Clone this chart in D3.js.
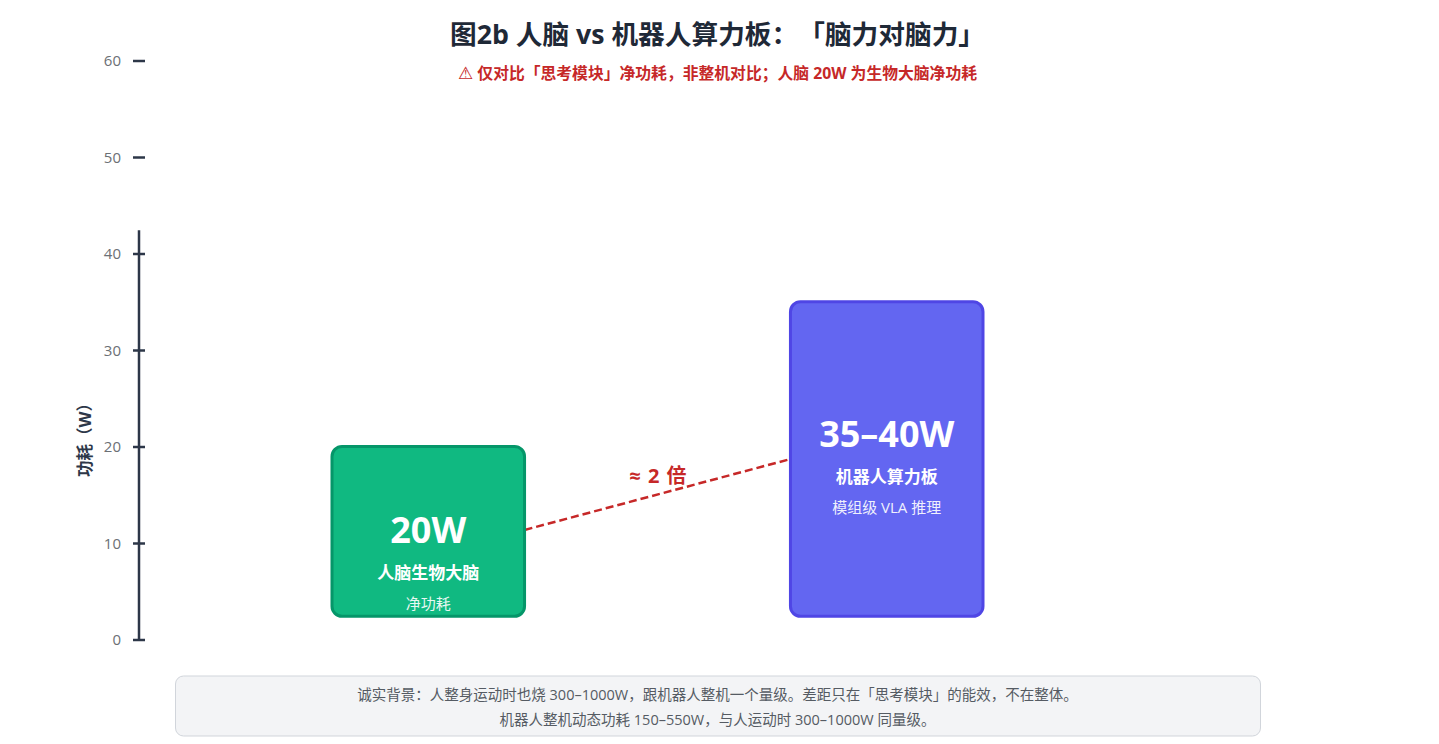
<!DOCTYPE html>
<html>
<head>
<meta charset="utf-8">
<title>图2b 人脑 vs 机器人算力板</title>
<style>
  html, body { margin: 0; padding: 0; background: #fff; }
  svg { display: block; }
  text { font-family: "Open Sans", "Noto Sans CJK SC", sans-serif; text-spacing-trim: space-all; }
</style>
</head>
<body>
<div id="chart"></div>
<script src="https://d3js.org/d3.v7.min.js"></script>
<script>
// data
const categories = ["人脑生物大脑", "机器人算力板"];
const barValues = [20, 35];
const barBase = 2.4;
const valueLabels = ["20W", "35–40W"];
const subLabels = ["净功耗", "模组级 VLA 推理"];
const yTicks = [0, 10, 20, 30, 40, 50, 60];
const axisTop = 42.4;
const linkValues = [11.35, 18.7];
const noteLines = [
  "诚实背景：人整身运动时也烧 300–1000W，跟机器人整机一个量级。差距只在「思考模块」的能效，不在整体。",
  "机器人整机动态功耗 150–550W，与人运动时 300–1000W 同量级。"
];
const barFill = ["#10b981", "#6366f1"];
const barStroke = ["#059669", "#4f46e5"];

const width = 1439, height = 744;
const svg = d3.select("#chart").append("svg")
  .attr("width", width)
  .attr("height", height);

// scales
const y = d3.scaleLinear().domain([0, 60]).range([639.5, 60.5]);
const x = d3.scaleBand().domain(categories).range([332, 983]).paddingInner(0.58).paddingOuter(0);

// y axis
const axis = svg.append("g")
  .attr("transform", "translate(139,0)")
  .call(d3.axisLeft(y).tickValues(yTicks).tickSizeOuter(0).tickPadding(12));
axis.select(".domain").remove();
axis.selectAll(".tick line")
  .attr("x1", -6).attr("x2", 6)
  .attr("stroke", "#2d3748").attr("stroke-width", 2.5);
axis.selectAll(".tick text")
  .attr("dy", "0.34em")
  .attr("fill", "#6b7075")
  .style("font-size", "15px");
axis.append("line")
  .attr("y1", y(0)).attr("y2", y(axisTop))
  .attr("stroke", "#2d3748").attr("stroke-width", 2.5);

svg.append("text")
  .attr("transform", "translate(91,436) rotate(-90)")
  .attr("text-anchor", "middle")
  .attr("fill", "#2d3748")
  .style("font-size", "16.5px").style("font-weight", 700)
  .text("功耗（W）");

// connector behind the bars
svg.append("line")
  .attr("x1", x(categories[0]) + x.bandwidth())
  .attr("x2", x(categories[1]))
  .attr("y1", y(linkValues[0]))
  .attr("y2", y(linkValues[1]))
  .attr("stroke", "#c62828").attr("stroke-width", 2.5)
  .attr("stroke-dasharray", "8,4");

svg.append("text")
  .attr("x", 658).attr("y", 483)
  .attr("text-anchor", "middle")
  .attr("fill", "#c62828")
  .style("font-size", "20px").style("font-weight", 700)
  .style("word-spacing", "2px")
  .text("≈ 2 倍");

// bars
svg.selectAll("rect.bar")
  .data(categories)
  .join("rect")
    .attr("class", "bar")
    .attr("x", d => x(d))
    .attr("y", (d, i) => y(barValues[i]))
    .attr("width", x.bandwidth())
    .attr("height", (d, i) => y(barBase) - y(barValues[i]))
    .attr("rx", 10)
    .attr("fill", (d, i) => barFill[i])
    .attr("stroke", (d, i) => barStroke[i])
    .attr("stroke-width", 3);

// bar labels: the tall bar carries them above its middle, the short one below
const labelShift = [-1, -25];
const labels = svg.selectAll("g.label")
  .data(categories)
  .join("g")
    .attr("class", "label")
    .attr("text-anchor", "middle")
    .attr("fill", "#fff")
    .attr("transform", (d, i) => `translate(${x(d) + x.bandwidth() / 2},${(y(barValues[i]) + y(barBase)) / 2 + labelShift[i]})`);

labels.append("text")
  .attr("y", 13)
  .style("font-size", "36px").style("font-weight", 700)
  .text((d, i) => valueLabels[i]);
labels.append("text")
  .attr("y", 49)
  .style("font-size", "17px").style("font-weight", 700)
  .text(d => d);
labels.append("text")
  .attr("y", 79)
  .attr("opacity", 0.9)
  .style("font-size", "15px")
  .text((d, i) => subLabels[i]);

// title
svg.append("text")
  .attr("x", 717.5).attr("y", 44)
  .attr("text-anchor", "middle")
  .attr("fill", "#1f2937")
  .style("font-size", "26.7px").style("font-weight", 700)
  .text("图2b 人脑 vs 机器人算力板：「脑力对脑力」");

const warn = svg.append("text")
  .attr("x", 717.5).attr("y", 79)
  .attr("text-anchor", "middle")
  .attr("fill", "#c62828")
  .style("font-size", "15.8px").style("font-weight", 700);
warn.append("tspan").style("font-family", "DejaVu Sans").style("font-weight", 400).style("font-size", "17px").text("⚠");
warn.append("tspan").text(" 仅对比「思考模块」净功耗，非整机对比；人脑 20W 为生物大脑净功耗");

// footnote box
svg.append("rect")
  .attr("x", 175.5).attr("y", 676)
  .attr("width", 1085).attr("height", 60)
  .attr("rx", 8)
  .attr("fill", "#f3f4f6")
  .attr("stroke", "#d1d5db").attr("stroke-width", 1);

svg.selectAll("text.note")
  .data(noteLines)
  .join("text")
    .attr("class", "note")
    .attr("x", 717.5)
    .attr("y", (d, i) => 700 + i * 25)
    .attr("text-anchor", "middle")
    .attr("fill", "#555b63")
    .style("font-size", "14.5px")
    .text(d => d);
</script>
</body>
</html>
